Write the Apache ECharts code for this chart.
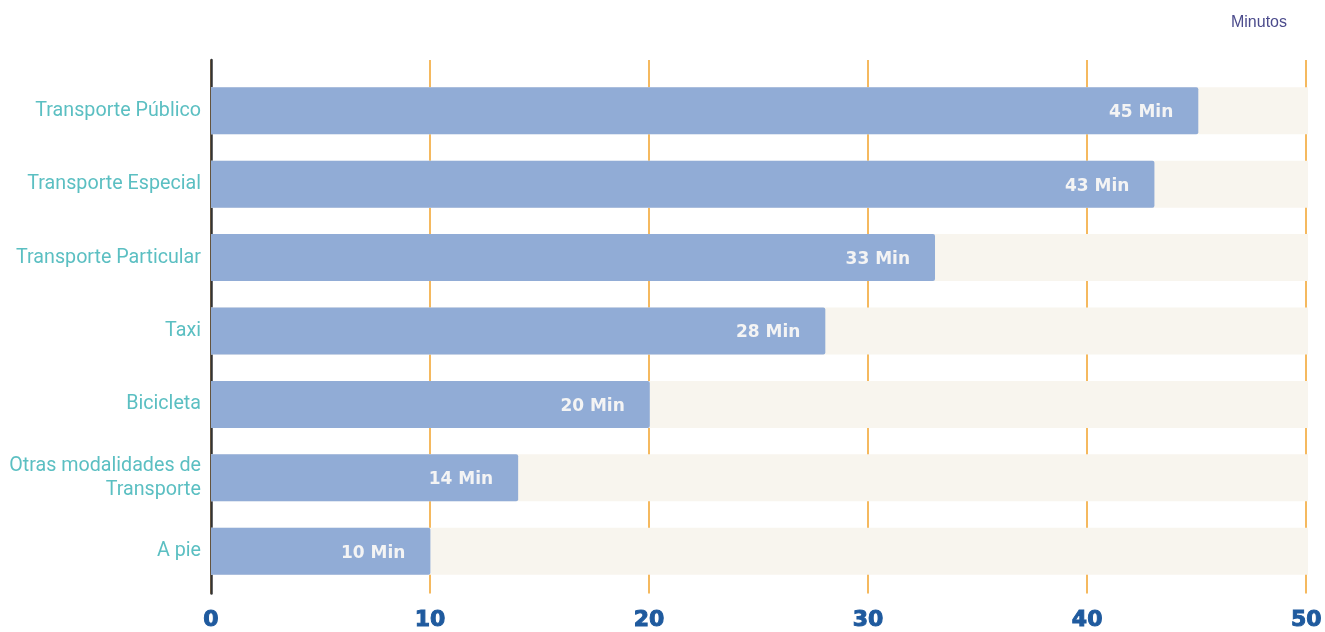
<!DOCTYPE html>
<html><head><meta charset="utf-8">
<script src="https://cdn.jsdelivr.net/npm/echarts@6/dist/echarts.min.js"></script>
<style>html,body{margin:0;padding:0;background:#fff}#c{width:1325px;height:632px}</style>
</head><body><div id="c"></div>
<script>
const categories = ['Transporte Público','Transporte Especial','Transporte Particular','Taxi','Bicicleta','Otras modalidades de\nTransporte','A pie'];
const values = [45,43,33,28,20,14,10];
const backgroundMax = [50,50,50,50,50,50,50];
const xTicks = [0,10,20,30,40,50];

const chart = echarts.init(document.getElementById('c'));
chart.setOption({
  animation:false,
  title:{text:'Minutos',right:33,top:10,textStyle:{color:'#4b4b8c',fontSize:16,fontWeight:'normal',fontFamily:'Liberation Sans'}},
  grid:[
    {left:211,right:17,top:74,bottom:44},
    {left:211,right:17,top:60,bottom:32}
  ],
  xAxis:[
    {gridIndex:0,type:'value',min:0,max:50,interval:10,show:false,splitLine:{show:false}},
    {gridIndex:1,type:'value',min:xTicks[0],max:xTicks[xTicks.length-1],interval:10,
     axisLine:{show:false},axisTick:{show:false},
     axisLabel:{margin:16,color:'#1f5a9e',fontSize:22,fontWeight:'bold',fontFamily:'DejaVu Sans',textBorderColor:'#1f5a9e',textBorderWidth:1},
     splitLine:{show:true,lineStyle:{color:'#f5b95f',width:2}}}
  ],
  yAxis:[
    {gridIndex:0,type:'category',data:categories,inverse:true,
     axisLine:{show:false},axisTick:{show:false},
     axisLabel:{margin:10,color:'#5bbfc2',fontSize:19.7,fontFamily:'Roboto',lineHeight:24,padding:[3,0,0,0]}},
    {gridIndex:1,type:'value',min:0,max:1,
     axisLine:{show:true,lineStyle:{color:'#333',width:2.5}},axisTick:{show:false},axisLabel:{show:false},splitLine:{show:false}}
  ],
  series:[
    {type:'bar',xAxisIndex:0,yAxisIndex:0,data:backgroundMax,barWidth:47,barGap:'-100%',
     itemStyle:{color:'#f8f5ee'},silent:true,z:1},
    {type:'bar',xAxisIndex:0,yAxisIndex:0,data:values,barWidth:47,z:2,
     itemStyle:{color:'#91acd6',borderRadius:[0,2,2,0]},
     label:{show:true,position:'insideRight',distance:25,color:'#f4f4f4',fontSize:17,fontWeight:'bold',fontFamily:'DejaVu Sans',
       offset:[0,2],formatter:p=>p.value+' Min'}}
  ]
});
</script></body></html>
